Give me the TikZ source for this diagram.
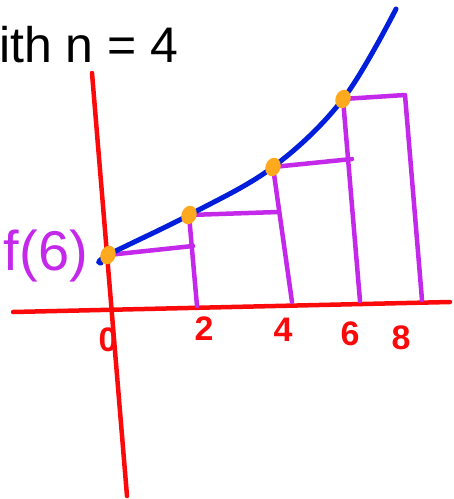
\documentclass[tikz,border=0pt]{standalone}
\usepackage{fontspec}
\setmainfont{Liberation Sans}
\usetikzlibrary{shapes.geometric}
\definecolor{axiscolor}{RGB}{250,10,10}
\definecolor{graphcolor}{RGB}{0,30,220}
\definecolor{rectcolor}{RGB}{195,40,235}
\definecolor{dotcolor}{RGB}{255,170,30}
\tikzset{
  axisline/.style  = {draw=axiscolor, line width=4.5pt, line cap=round},
  graphline/.style = {draw=graphcolor, line width=5pt, line cap=round},
  rectline/.style  = {draw=rectcolor, line width=4.5pt, line cap=round, line join=round},
  dot/.style       = {ellipse, fill=dotcolor, minimum width=15pt, minimum height=19pt, inner sep=0pt},
  ticklabel/.style = {text=axiscolor, font=\fontsize{34}{34}\selectfont\bfseries, inner sep=0pt},
}
\begin{document}
\begin{tikzpicture}[x=1pt, y=-1pt]
  \useasboundingbox (0,0) rectangle (454,499);
  \node[anchor=base west, inner sep=0pt, font=\fontsize{50}{50}\selectfont] (title) at (-1,62) {ith n = 4};
  % axes
  \coordinate (ytop) at (92,73);
  \coordinate (ybot) at (127,496);
  \coordinate (xleft) at (13,312);
  \coordinate (xright) at (450,302);
  \draw[axisline] (ytop) -- (ybot);
  \draw[axisline] (xleft) -- (xright);
  % points on the curve
  \coordinate (c0) at (101,263);
  \coordinate (d0) at (108,255);
  \coordinate (d1) at (189,215);
  \coordinate (d2) at (273,167);
  \coordinate (d3) at (343,99);
  \coordinate (cend) at (396,9);
  % rectangle corners
  \coordinate (t1) at (193,246);
  \coordinate (t2) at (278,212);
  \coordinate (t3) at (352,159);
  \coordinate (t4) at (405,95);
  \coordinate (b2) at (197,306);
  \coordinate (b4) at (292,302);
  \coordinate (b6) at (360,301);
  \coordinate (b8) at (422,300);
  \draw[rectline] (d0) -- (t1);
  \draw[rectline] (d1) -- (t2);
  \draw[rectline] (d2) -- (t3);
  \draw[rectline] (d3) -- (t4) -- (b8);
  \draw[rectline] (d1) -- (b2);
  \draw[rectline] (d2) -- (b4);
  \draw[rectline] (d3) -- (b6);
  \draw[graphline] plot[smooth, tension=0.6] coordinates {(c0) (d0) (d1) (d2) (d3) (cend)};
  \foreach \p in {d0,d1,d2,d3}
    \node[dot, rotate=-20] (dot-\p) at (\p) {};
  % labels
  \node[text=rectcolor, font=\fontsize{56}{56}\selectfont, inner sep=0pt] (fzero) at (46,256) {f(6)};
  \node[ticklabel] (l0) at (108,340) {0};
  \node[ticklabel] (l2) at (204,329) {2};
  \node[ticklabel] (l4) at (283,330) {4};
  \node[ticklabel] (l6) at (350,334) {6};
  \node[ticklabel] (l8) at (401,338) {8};
\end{tikzpicture}
\end{document}
